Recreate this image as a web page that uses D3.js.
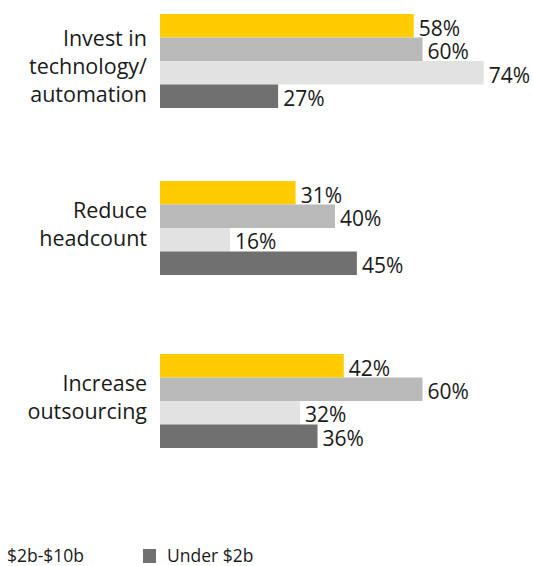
<!DOCTYPE html>
<html>
<head>
<meta charset="utf-8">
<script src="https://cdn.jsdelivr.net/npm/d3@7"></script>
<style>
  html, body { margin: 0; padding: 0; background: #fff; }
  svg { display: block; font-family: "Open Sans", sans-serif; }
</style>
</head>
<body>
<svg id="chart" width="533" height="566"></svg>
<script>
// ---- data ----
const categories = [
  ["Invest in", "technology/", "automation"],
  ["Reduce", "headcount"],
  ["Increase", "outsourcing"]
];
const seriesNames = ["Total", "Over $10b", "$2b-$10b", "Under $2b"];
const seriesColors = ["#ffcc00", "#b9b9b9", "#e2e2e2", "#707070"];
const values = [
  [58, 60, 74, 27],
  [31, 40, 16, 45],
  [42, 60, 32, 36]
];
const legendShown = ["$2b-$10b", "Under $2b"];

// ---- layout ----
const svg = d3.select("#chart");
const x = d3.scaleLinear().domain([0, 100]).range([160, 597.5]);
const y0 = d3.scaleBand().domain(d3.range(categories.length)).range([14, 448]).paddingInner(0.447).paddingOuter(0);
const y1 = d3.scaleBand().domain(d3.range(seriesNames.length)).range([0, y0.bandwidth()]).padding(0);
const groupShift = [0, -3, 0];

const groups = svg.selectAll("g.grp").data(values).join("g")
  .attr("class", "grp")
  .attr("transform", (d, i) => `translate(0,${y0(i) + groupShift[i]})`);

groups.selectAll("rect").data(d => d).join("rect")
  .attr("x", x(0))
  .attr("y", (d, j) => y1(j))
  .attr("width", d => x(d) - x(0))
  .attr("height", y1.bandwidth())
  .attr("fill", (d, j) => seriesColors[j]);

groups.selectAll("text.val").data(d => d).join("text")
  .attr("class", "val")
  .attr("x", d => x(d) + 5)
  .attr("y", (d, j) => y1(j) + y1.bandwidth() - 2)
  .attr("font-size", 21)
  .attr("fill", "#1a1a1a")
  .text(d => d + "%");

// category labels
const lh = 28;
categories.forEach((lines, i) => {
  const c = y0(i) + groupShift[i] + y0.bandwidth() / 2;
  const shift = lines.length > 2 ? 13 : 4;
  const t = svg.append("text")
    .attr("text-anchor", "end")
    .attr("font-size", 21.5)
    .attr("fill", "#1a1a1a");
  lines.forEach((ln, k) => {
    t.append("tspan")
      .attr("x", 147)
      .attr("y", c + shift + (k - (lines.length - 1) / 2) * lh)
      .text(ln);
  });
});

// legend (only the part visible in frame)
const lg = svg.append("g").attr("font-size", 17.5).attr("fill", "#1a1a1a");
lg.append("text").attr("x", 7).attr("y", 562).text(legendShown[0]);
lg.append("rect").attr("x", 143).attr("y", 549).attr("width", 13).attr("height", 14)
  .attr("fill", seriesColors[seriesNames.indexOf(legendShown[1])]);
lg.append("text").attr("x", 167).attr("y", 562).text(legendShown[1]);
</script>
</body>
</html>
